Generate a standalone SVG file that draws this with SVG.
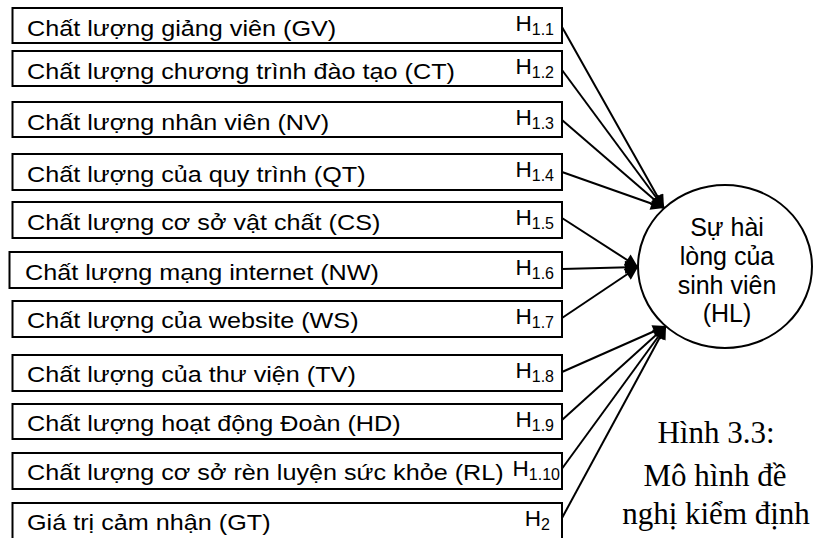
<svg xmlns="http://www.w3.org/2000/svg" width="814" height="538" viewBox="0 0 814 538">
  <defs>
    <marker id="arrow" viewBox="0 0 10 10" refX="10" refY="5" markerWidth="17" markerHeight="13" markerUnits="userSpaceOnUse" orient="auto">
      <path d="M0,0 L10,5 L0,10 Z" fill="#000"/>
    </marker>
    <style>
      .box { fill: #fff; stroke: #000; stroke-width: 2; }
      .lbl { font-family: "Liberation Sans", Arial, sans-serif; font-size: 22.5px; fill: #000; }
      .hyp { font-family: "Liberation Sans", Arial, sans-serif; font-size: 22.5px; fill: #000; text-anchor: end; }
      .sub { font-size: 16px; }
      .edge { stroke: #000; stroke-width: 2; fill: none; marker-end: url(#arrow); }
      .node-text { font-family: "Liberation Sans", Arial, sans-serif; font-size: 25px; fill: #000; text-anchor: middle; }
      .caption { font-family: "Liberation Serif", "Times New Roman", serif; font-size: 31px; fill: #000; text-anchor: middle; }
    </style>
  </defs>
  <rect width="814" height="538" fill="#fff"/>

  <!-- connectors: factor boxes to the outcome ellipse -->
  <g id="connectors">
    <line class="edge" x1="562" y1="27" x2="664" y2="208"/>
    <line class="edge" x1="562" y1="70" x2="664" y2="208"/>
    <line class="edge" x1="562" y1="120" x2="664" y2="208"/>
    <line class="edge" x1="562" y1="172" x2="664" y2="208"/>
    <line class="edge" x1="562" y1="218" x2="638" y2="267"/>
    <line class="edge" x1="562" y1="269" x2="638" y2="267"/>
    <line class="edge" x1="562" y1="318" x2="638" y2="267"/>
    <line class="edge" x1="562" y1="372" x2="666" y2="326"/>
    <line class="edge" x1="562" y1="420" x2="666" y2="326"/>
    <line class="edge" x1="561" y1="470" x2="666" y2="326"/>
    <line class="edge" x1="562" y1="518" x2="666" y2="326"/>
  </g>

  <!-- box labels are set slightly wide: scale(1.12 1) -->
  <g id="GV">
    <rect class="box" x="12.5" y="8" width="549.5" height="35"/>
    <text class="lbl" transform="translate(27 35.5) scale(1.12 1)">Chất lượng giảng viên (GV)</text>
    <text class="hyp" x="554" y="31">H<tspan class="sub" dy="4">1.1</tspan></text>
  </g>
  <g id="CT">
    <rect class="box" x="12.5" y="51" width="549.5" height="35"/>
    <text class="lbl" transform="translate(27 78.5) scale(1.12 1)">Chất lượng chương trình đào tạo (CT)</text>
    <text class="hyp" x="554" y="74">H<tspan class="sub" dy="4">1.2</tspan></text>
  </g>
  <g id="NV">
    <rect class="box" x="12.5" y="102" width="549.5" height="35"/>
    <text class="lbl" transform="translate(27 129.5) scale(1.12 1)">Chất lượng nhân viên (NV)</text>
    <text class="hyp" x="554" y="125">H<tspan class="sub" dy="4">1.3</tspan></text>
  </g>
  <g id="QT">
    <rect class="box" x="12.5" y="154" width="549.5" height="36"/>
    <text class="lbl" transform="translate(27 181.5) scale(1.12 1)">Chất lượng của quy trình (QT)</text>
    <text class="hyp" x="554" y="177">H<tspan class="sub" dy="4">1.4</tspan></text>
  </g>
  <g id="CS">
    <rect class="box" x="12.5" y="202" width="549.5" height="36"/>
    <text class="lbl" transform="translate(27 229.5) scale(1.12 1)">Chất lượng cơ sở vật chất (CS)</text>
    <text class="hyp" x="554" y="225">H<tspan class="sub" dy="4">1.5</tspan></text>
  </g>
  <g id="NW">
    <rect class="box" x="9.5" y="252" width="552.5" height="36"/>
    <text class="lbl" transform="translate(25 279.5) scale(1.12 1)">Chất lượng mạng internet (NW)</text>
    <text class="hyp" x="554" y="275">H<tspan class="sub" dy="4">1.6</tspan></text>
  </g>
  <g id="WS">
    <rect class="box" x="12.5" y="301" width="549.5" height="36"/>
    <text class="lbl" transform="translate(27 328) scale(1.12 1)">Chất lượng của website (WS)</text>
    <text class="hyp" x="554" y="324">H<tspan class="sub" dy="4">1.7</tspan></text>
  </g>
  <g id="TV">
    <rect class="box" x="12.5" y="355" width="549.5" height="36"/>
    <text class="lbl" transform="translate(27 382) scale(1.12 1)">Chất lượng của thư viện (TV)</text>
    <text class="hyp" x="554" y="378">H<tspan class="sub" dy="4">1.8</tspan></text>
  </g>
  <g id="HD">
    <rect class="box" x="12.5" y="404" width="549.5" height="35"/>
    <text class="lbl" transform="translate(27 431) scale(1.12 1)">Chất lượng hoạt động Đoàn (HD)</text>
    <text class="hyp" x="554" y="427">H<tspan class="sub" dy="4">1.9</tspan></text>
  </g>
  <g id="RL">
    <rect class="box" x="12.5" y="453" width="549.5" height="36"/>
    <text class="lbl" transform="translate(27 480) scale(1.12 1)">Chất lượng cơ sở rèn luyện sức khỏe (RL)</text>
    <text class="hyp" x="560" y="476">H<tspan class="sub" dy="4">1.10</tspan></text>
  </g>
  <g id="GT">
    <rect class="box" x="12.5" y="503" width="549.5" height="36"/>
    <text class="lbl" transform="translate(27 530) scale(1.12 1)">Giá trị cảm nhận (GT)</text>
    <text class="hyp" x="550" y="526">H<tspan class="sub" dy="4">2</tspan></text>
  </g>

  <g id="HL">
    <ellipse cx="725" cy="266.5" rx="87" ry="81.5" fill="#fff" stroke="#000" stroke-width="2"/>
    <text class="node-text" x="727" y="236">Sự hài</text>
    <text class="node-text" x="727" y="265">lòng của</text>
    <text class="node-text" x="727" y="294">sinh viên</text>
    <text class="node-text" x="727" y="322">(HL)</text>
  </g>

  <g id="caption">
    <text class="caption" x="716" y="443">Hình 3.3:</text>
    <text class="caption" x="715" y="486">Mô hình đề</text>
    <text class="caption" x="716" y="524">nghị kiểm định</text>
  </g>
</svg>
